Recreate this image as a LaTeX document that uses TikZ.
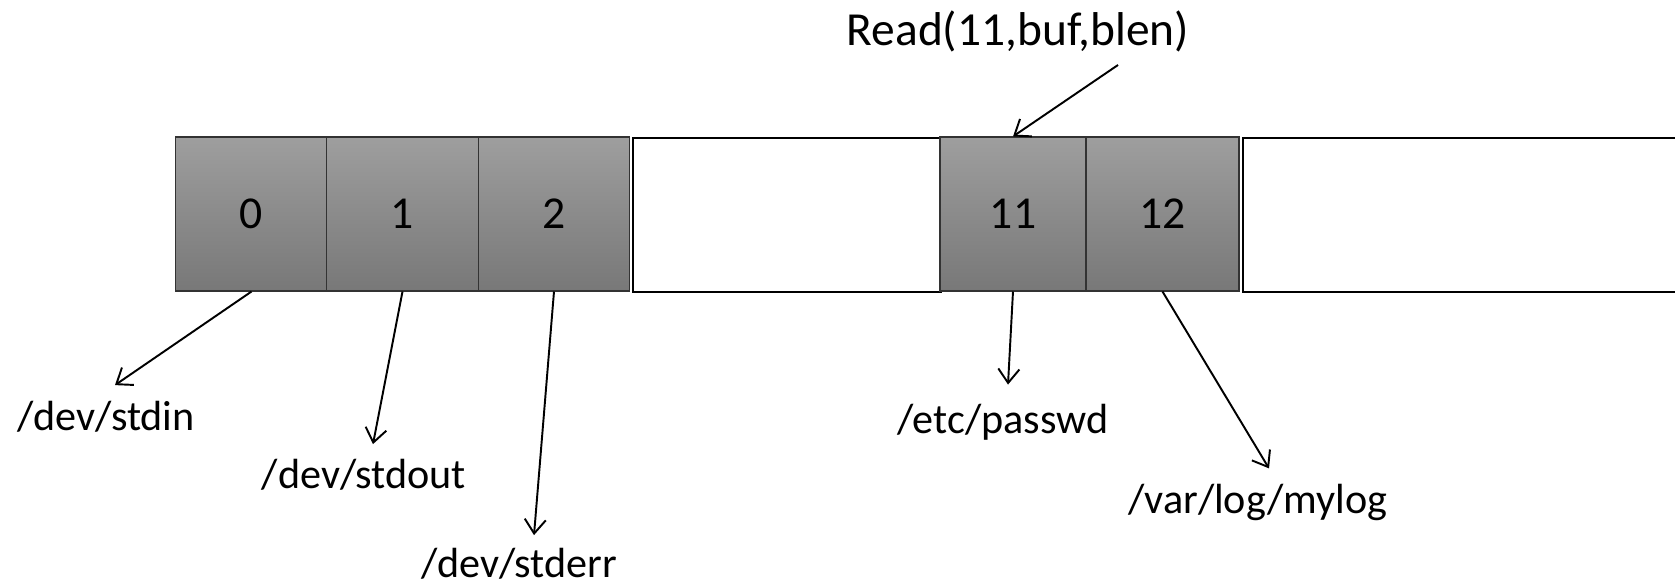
\documentclass[tikz,border=0pt]{standalone}
\usepackage{fontspec}
\setmainfont{Carlito}
\usetikzlibrary{arrows.meta, positioning}

\begin{document}
\begin{tikzpicture}[
  slot/.style={draw=black!80, line width=0.6pt, minimum width=3.03cm, minimum height=3.08cm,
               inner sep=0pt, top color=black!38, bottom color=black!53,
               font=\fontsize{26}{30}\selectfont},
  free/.style={draw, line width=1.5pt, minimum height=3.08cm, inner sep=0pt, fill=white},
  fname/.style={font=\fontsize{24}{28}\selectfont, inner sep=0pt},
  arr/.style={-{Straight Barb[length=8pt, width=12pt]}, line width=1.1pt},
]
\useasboundingbox (0,0) rectangle (33.5,11.72);
\node[slot] (fd0)  at (5.03, 7.44)  {0};
\node[slot] (fd1)  at (8.05, 7.44)  {1};
\node[slot] (fd2)  at (11.08, 7.44) {2};
\node[free, minimum width=6.16cm] (gap)  at (15.74, 7.42) {};
\node[slot, minimum width=2.92cm] (fd11) at (20.26, 7.44) {11};
\node[slot, minimum width=3.06cm] (fd12) at (23.25, 7.44) {12};
\node[free, minimum width=9.18cm] (rest) at (29.45, 7.42) {};
\node[fname, font=\fontsize{27}{31}\selectfont] (readcall) at (20.36, 11.10) {Read(11,buf,blen)};
\node[fname] (stdin)  at (2.12, 3.38)  {/dev/stdin};
\node[fname] (stdout) at (7.28, 2.22)  {/dev/stdout};
\node[fname] (stderr) at (10.38, 0.45) {/dev/stderr};
\node[fname] (passwd) at (20.06, 3.28) {/etc/passwd};
\node[fname] (mylog)  at (25.16, 1.68) {/var/log/mylog};
\draw[arr] ([shift={(2.0,-0.26)}]readcall.south) -- (fd11.north);
\draw[arr] (fd0.south)  -- ([shift={(0.18,0.32)}]stdin.north);
\draw[arr] (fd1.south)  -- ([shift={(0.18,0.30)}]stdout.north);
\draw[arr] (fd2.south)  -- ([shift={(0.30,0.25)}]stderr.north);
\draw[arr] (fd11.south) -- ([shift={(0.10,0.38)}]passwd.north);
\draw[arr] (fd12.south) -- ([shift={(0.22,0.30)}]mylog.north);
\end{tikzpicture}
\end{document}
